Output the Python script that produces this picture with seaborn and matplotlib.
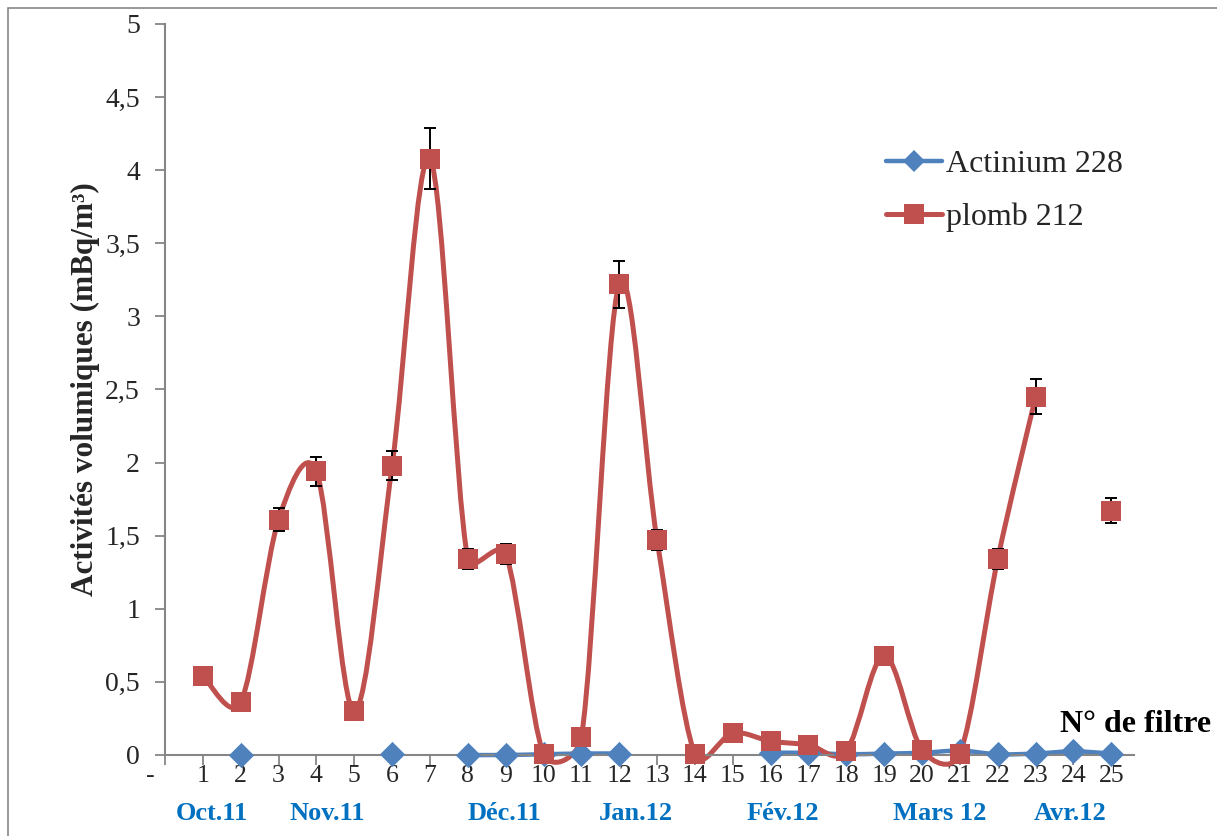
import numpy as np
import pandas as pd
import matplotlib
matplotlib.use("Agg")
import matplotlib.pyplot as plt
import matplotlib.transforms as mtransforms
from matplotlib.path import Path
from matplotlib.patches import PathPatch, Rectangle
from matplotlib.lines import Line2D
import seaborn as sns

sns.set_theme(style="white")
plt.rcParams["font.family"] = ["Liberation Serif", "DejaVu Serif"]

# =====================================
# DATA
# =====================================
filtres = list(range(1, 26))
tick_labels = ["-"] + [str(i) for i in filtres]

plomb_212 = [0.54, 0.36, 1.61, 1.94, 0.30, 1.98, 4.08, 1.34, 1.375, 0.01,
             0.12, 3.22, 1.47, 0.005, 0.15, 0.095, 0.07, 0.03, 0.68, 0.035,
             0.01, 1.34, 2.45, np.nan, 1.67]
plomb_err = [0.03, 0.02, 0.08, 0.10, 0.015, 0.10, 0.21, 0.07, 0.07, 0.0,
             0.006, 0.16, 0.07, 0.0, 0.008, 0.005, 0.004, 0.002, 0.03, 0.002,
             0.0, 0.07, 0.12, np.nan, 0.085]

actinium_228 = [np.nan, 0.0, np.nan, np.nan, np.nan, 0.005, np.nan, 0.0, 0.0, 0.005,
                0.01, 0.01, np.nan, np.nan, np.nan, 0.015, 0.015, 0.005, 0.01, 0.015,
                0.03, 0.005, 0.01, 0.025, 0.01]

mois = ["Oct.11", "Nov.11", "Déc.11", "Jan.12", "Fév.12", "Mars 12", "Avr.12"]
mois_pos = [1.24, 4.28, 8.98, 12.44, 16.33, 20.47, 23.91]

BLUE = "#4F81BD"
RED = "#C0504D"
GREY = "#868686"


def smooth_runs(ax, xs, ys, color, lw):
    # excel-like smoothed line (control arms capped at half segment),
    # broken where values are missing
    xs = np.asarray(xs, dtype=float)
    ys = np.asarray(ys, dtype=float)
    ok = ~np.isnan(ys)
    runs = []
    cur = []
    for i in range(len(xs)):
        if ok[i]:
            cur.append((xs[i], ys[i]))
        else:
            if cur:
                runs.append(cur)
            cur = []
    if cur:
        runs.append(cur)

    to_px = ax.transData
    to_data = ax.transData.inverted()
    for run in runs:
        if len(run) < 2:
            continue
        pts = to_px.transform(np.array(run))
        n = len(pts)
        verts = [tuple(run[0])]
        codes = [Path.MOVETO]
        for i in range(n - 1):
            p0 = pts[i - 1] if i > 0 else pts[i]
            p1 = pts[i]
            p2 = pts[i + 1]
            p3 = pts[i + 2] if i + 2 < n else pts[i + 1]
            d12 = np.hypot(*(p2 - p1))
            d02 = np.hypot(*(p2 - p0))
            d13 = np.hypot(*(p3 - p1))
            f0 = 1 / 6
            f3 = 1 / 6
            if d02 / 6 >= d12 / 2 and d02 > 0:
                f0 = d12 / d02 / 2
            if d13 / 6 >= d12 / 2 and d13 > 0:
                f3 = d12 / d13 / 2
            c1 = p1 + (p2 - p0) * f0
            c2 = p2 - (p3 - p1) * f3
            c1, c2, e = to_data.transform(np.array([c1, c2, p2]))
            verts += [tuple(c1), tuple(c2), tuple(e)]
            codes += [Path.CURVE4] * 3
        ax.add_patch(PathPatch(Path(verts, codes), facecolor="none",
                               edgecolor=color, lw=lw, capstyle="round",
                               joinstyle="round", zorder=2, clip_on=False))


fig = plt.figure(figsize=(12.17, 8.36), dpi=100)
ax = fig.add_axes([165 / 1217, 81 / 836, 969 / 1217, 731 / 836])
ax.set_xlim(0, 25.6)
ax.set_ylim(0, 5)

# frame around the whole chart
fig.patches.append(Rectangle((8 / 1217, -0.05), 1.1, 1 - 8 / 836 + 0.05,
                             transform=fig.transFigure, fill=False,
                             edgecolor=GREY, lw=1.2))

df = pd.DataFrame({
    "filtre": filtres,
    "plomb": plomb_212,
    "err": plomb_err,
    "actinium": actinium_228,
})

smooth_runs(ax, df["filtre"], df["actinium"], BLUE, 3.2)
smooth_runs(ax, df["filtre"], df["plomb"], RED, 3.6)

eb = df.dropna(subset=["plomb"])
bars = ax.errorbar(eb["filtre"], eb["plomb"], yerr=eb["err"], fmt="none",
                   ecolor="black", elinewidth=1.4, capsize=4.3, capthick=1.4,
                   zorder=3)
for art in bars.lines[1] + bars.lines[2]:
    art.set_clip_on(False)

sns.scatterplot(data=df.dropna(subset=["actinium"]), x="filtre", y="actinium",
                marker="D", s=165, color=BLUE, edgecolor=BLUE, linewidth=0,
                ax=ax, zorder=4, clip_on=False)
sns.scatterplot(data=eb, x="filtre", y="plomb", marker="s", s=210,
                color=RED, edgecolor=RED, linewidth=0, ax=ax, zorder=5,
                clip_on=False)

ax.set_xlim(0, 25.6)
ax.set_ylim(0, 5)
ax.set_xticks(range(0, 26))
ax.set_xticklabels(tick_labels, fontsize=18.5)
yt = np.arange(0, 5.01, 0.5)
ax.set_yticks(yt)
ax.set_yticklabels([("%g" % v).replace(".", ",") for v in yt], fontsize=20)
ax.tick_params(axis="both", direction="out", color=GREY, width=1.3, length=7,
               bottom=True, left=True)
ax.tick_params(axis="x", pad=0)
ax.tick_params(axis="y", pad=11)

# shift the "-" label left like in the original
lbl = ax.get_xticklabels()[0]
lbl.set_transform(lbl.get_transform() +
                  mtransforms.ScaledTranslation(-0.15, 0, fig.dpi_scale_trans))

for side in ["top", "right"]:
    ax.spines[side].set_visible(False)
for side in ["left", "bottom"]:
    ax.spines[side].set_color(GREY)
    ax.spines[side].set_linewidth(1.5)

ax.set_xlabel("")
ax.set_ylabel("Activités volumiques (mBq/m³)", fontsize=22.5, fontweight="bold",
              labelpad=4)

for m, p in zip(mois, mois_pos):
    ax.text(p, -0.4, m, ha="center", va="center", fontsize=19,
            fontweight="bold", color="#0070C0", clip_on=False)

ax.text(23.65, 0.21, "N° de filtre", ha="left", va="center", fontsize=23,
        fontweight="bold", color="black", clip_on=False)

handles = [
    Line2D([], [], color=BLUE, lw=3.2, marker="D", markersize=11, markeredgewidth=0),
    Line2D([], [], color=RED, lw=3.6, marker="s", markersize=14, markeredgewidth=0),
]
ax.legend(handles, ["Actinium 228", "plomb 212"], loc="upper left",
          bbox_to_anchor=(886 / 1217, 1 - 150 / 836),
          bbox_transform=fig.transFigure, frameon=False, fontsize=23,
          handlelength=1.75, handletextpad=0.12, labelspacing=0.72,
          borderpad=0, borderaxespad=0)

fig.savefig("out.png", dpi=100)
